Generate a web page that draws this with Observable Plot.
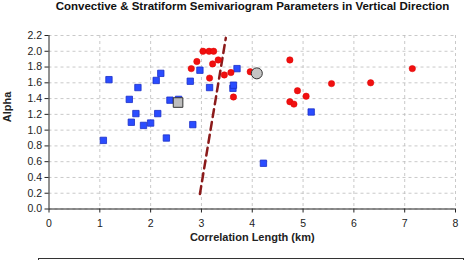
<!DOCTYPE html>
<html><head><meta charset="utf-8">
<script src="https://cdn.jsdelivr.net/npm/d3@7"></script>
<script src="https://cdn.jsdelivr.net/npm/@observablehq/plot@0.6"></script>
<style>
body{margin:0;background:#fff;font-family:"Liberation Sans",Arial,sans-serif;width:465px;height:260px;overflow:hidden;position:relative}
#title{position:absolute;left:0;top:0px;width:465px;text-align:center;font-weight:bold;font-size:11.5px;padding-left:40px;box-sizing:border-box;color:#111}
#chart{position:absolute;left:0;top:22px}
#legend{position:absolute;left:38px;top:258px;width:424px;height:20px;border:1px solid #333}
</style></head><body>
<div id="title">Convective &amp; Stratiform Semivariogram Parameters in Vertical Direction</div>
<div id="chart"></div>
<div id="legend"></div>
<script>
const stratX = [1.07,1.18,1.58,1.62,1.71,1.75,1.86,2.00,2.11,2.14,2.20,2.31,2.38,2.55,2.78,2.83,2.97,3.16,3.62,3.63,3.70,5.16,4.22];
const stratY = [0.87,1.64,1.39,1.10,1.21,1.54,1.06,1.09,1.63,1.21,1.72,0.90,1.38,1.39,1.62,1.07,1.76,1.54,1.53,1.57,1.78,1.23,0.58];
const convX = [2.80,2.91,3.03,3.15,3.24,3.22,3.33,3.16,3.45,3.58,3.63,3.96,4.74,4.89,5.06,4.74,4.82,5.56,6.33,7.15];
const convY = [1.78,1.87,2.00,2.00,2.00,1.84,1.89,1.66,1.70,1.73,1.42,1.74,1.89,1.50,1.43,1.36,1.33,1.59,1.60,1.78];
const meanStrat = {x: 2.54, y: 1.35};
const meanConv = {x: 4.09, y: 1.72};
const divideX = [2.97, 3.48];
const divideY = [0.19, 2.17];
const xTicks = [0,1,2,3,4,5,6,7,8];
const yTicks = [0,0.2,0.4,0.6,0.8,1.0,1.2,1.4,1.6,1.8,2.0,2.2];

const strat = stratX.map((x,i)=>({x, y: stratY[i]}));
const conv = convX.map((x,i)=>({x, y: convY[i]}));
const divide = divideX.map((x,i)=>({x, y: divideY[i]}));

const chart = Plot.plot({
  width: 465, height: 234,
  marginLeft: 48.5, marginRight: 10, marginTop: 13, marginBottom: 47.5,
  style: {fontFamily: '"Liberation Sans", Arial, sans-serif', fontSize: "10px", color: "#222", background: "white"},
  x: {domain: [0, 8], ticks: xTicks, label: null},
  y: {domain: [0, 2.2], ticks: yTicks, label: null},
  marks: [
    Plot.gridY(yTicks, {stroke: "#bbb", strokeOpacity: 0.8, strokeDasharray: "3,3"}),
    Plot.gridX(xTicks.slice(1), {stroke: "#bbb", strokeOpacity: 0.8, strokeDasharray: "3,3"}),
    Plot.axisY(yTicks, {tickFormat: d => d.toFixed(1), tickSize: 4, tickPadding: 3, fontSize: 10.5, stroke: "#222", label: null}),
    Plot.axisX(xTicks, {tickSize: 4, tickPadding: 7, fontSize: 10.5, stroke: "#222", label: null}),
    Plot.ruleX([0], {stroke: "#222"}),
    Plot.ruleY([0], {stroke: "#222"}),
    Plot.line(divide, {x: "x", y: "y", stroke: "#8b1a1a", strokeWidth: 2.5, strokeDasharray: "8,5"}),
    Plot.dot(strat, {x: "x", y: "y", symbol: "square", r: 3.6, fill: "#2a4cff", stroke: "#1a2fc8", strokeWidth: 0.8}),
    Plot.dot(conv, {x: "x", y: "y", symbol: "circle", r: 3.2, fill: "#f01010", stroke: "#e00000", strokeWidth: 0.5}),
    Plot.dot([meanStrat], {x: "x", y: "y", symbol: "square", r: 5.4, fill: "#bdbdbd", stroke: "#333", strokeWidth: 1}),
    Plot.dot([meanConv], {x: "x", y: "y", symbol: "circle", r: 5.5, fill: "#c4c4c4", stroke: "#333", strokeWidth: 1}),
    Plot.text(["Correlation Length (km)"], {frameAnchor: "bottom", dy: 31.5, fontWeight: "bold", fontSize: 11, fill: "#222"}),
    Plot.text(["Alpha"], {frameAnchor: "left", dx: -42, dy: 0, rotate: -90, fontWeight: "bold", fontSize: 11, fill: "#222"})
  ]
});
document.getElementById("chart").appendChild(chart);
</script>
</body></html>
